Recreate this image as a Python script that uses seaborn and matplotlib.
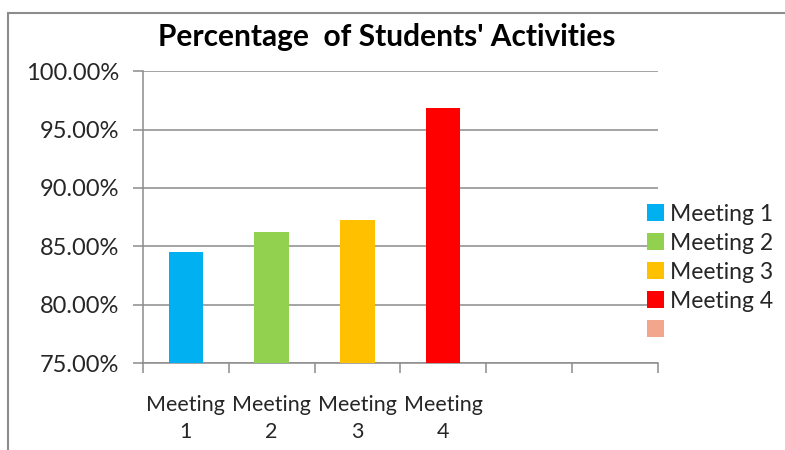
import pandas as pd
import seaborn as sns
import matplotlib.pyplot as plt
from matplotlib.patches import Patch, Rectangle
from matplotlib.ticker import FuncFormatter

# values
meetings = ["Meeting 1", "Meeting 2", "Meeting 3", "Meeting 4"]
percentages = [84.5, 86.2, 87.25, 96.85]
slots = ["Meeting\n1", "Meeting\n2", "Meeting\n3", "Meeting\n4", " ", "  "]
colors = ["#00B0F0", "#92D050", "#FFC000", "#FF0000"]
extra_color = "#F2A68C"

sns.set_style("white")
plt.rcParams['font.family'] = ['Lato', 'DejaVu Sans']

data = pd.DataFrame({"slot": slots[:4], "meeting": meetings, "pct": percentages})

fig = plt.figure(figsize=(7.85, 4.5), dpi=100)
ax = fig.add_axes([0.182, 0.193, 0.656, 0.649])

sns.barplot(data=data, x="slot", y="pct", hue="meeting", order=slots,
            palette=colors, saturation=1, dodge=False, width=0.4, ax=ax,
            legend=False, edgecolor="none", zorder=3)

ax.set_ylim(75, 100)
ax.set_xlim(-0.5, len(slots) - 0.5)
ax.set_yticks([75, 80, 85, 90, 95, 100])
ax.yaxis.set_major_formatter(FuncFormatter(lambda v, p: f"{v:.2f}%"))
ax.grid(axis="y", color="#8c8c8c", lw=1.1, zorder=0)
ax.set_xlabel("")
ax.set_ylabel("")

# category boundary ticks like the spreadsheet chart
ax.set_xticks([i - 0.5 for i in range(len(slots) + 1)], minor=True)
ax.tick_params(axis="x", which="major", length=0, pad=23, labelsize=15.5)
for t in ax.get_xticklabels():
    t.set_linespacing(1.45)
ax.tick_params(axis="x", which="minor", length=7, width=1.1, color="#8c8c8c", direction="out")
ax.tick_params(axis="y", length=7, width=1.1, color="#8c8c8c", direction="out", labelsize=17, pad=10)
ax.tick_params(bottom=True, left=True, which="both")

for s in ["top", "right"]:
    ax.spines[s].set_visible(False)
for s in ["left", "bottom"]:
    ax.spines[s].set_color("#8c8c8c")
    ax.spines[s].set_linewidth(1.1)

fig.text(0.493, 0.918, "Percentage  of Students' Activities", ha="center", va="center",
         fontsize=21.5, fontweight="bold", color="black")

handles = [Patch(facecolor=c, edgecolor="none") for c in colors]
handles.append(Patch(facecolor=extra_color, edgecolor="none"))
labels = meetings + [""]
fig.legend(handles, labels, loc="center left", bbox_to_anchor=(0.81, 0.395),
           frameon=False, fontsize=16.5, handlelength=0.75, handleheight=0.75,
           handletextpad=0.25, labelspacing=0.35, borderpad=0)

fig.patches.append(Rectangle((8 / 785, -0.1), 1.2, 1 - 13 / 450 + 0.1,
                             transform=fig.transFigure, fill=False,
                             edgecolor="#8c8c8c", lw=1.5))

fig.savefig("out.png", dpi=100)
